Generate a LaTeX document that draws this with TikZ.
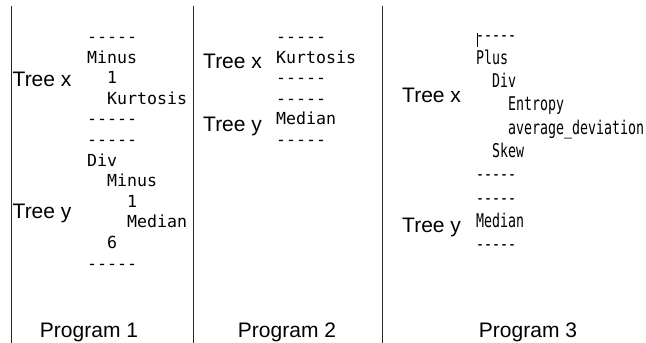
\documentclass[tikz,border=0pt]{standalone}
\usepackage{fontspec}
\usepackage{graphicx}
\setmainfont{Liberation Sans}
\newfontfamily\codefont{DejaVu Sans Mono}
\newcommand{\ind}[1]{\phantom{#1}}
\newcommand{\narrow}[1]{\scalebox{0.8}[1.14]{#1}}
\begin{document}
\begin{tikzpicture}[x=1pt,y=-1pt,
  lbl/.style={anchor=base west, inner sep=0pt, font=\fontsize{21}{24}\selectfont},
  prog/.style={anchor=base, inner sep=0pt, font=\fontsize{21}{24}\selectfont},
  code/.style={anchor=base west, inner sep=0pt, font=\codefont\fontsize{16.6}{20}\selectfont},
  sep/.style={line width=1pt, black!85}]
\useasboundingbox (0,0) rectangle (646,343);
\fill[white] (0,0) rectangle (646,343);

% column separators
\coordinate (s1t) at (11.5,6);  \coordinate (s1b) at (11.5,343);
\coordinate (s2t) at (193,6);   \coordinate (s2b) at (193,343);
\coordinate (s3t) at (382,6);   \coordinate (s3b) at (382,343);
\draw[sep] (s1t) -- (s1b);
\draw[sep] (s2t) -- (s2b);
\draw[sep] (s3t) -- (s3b);

% program labels
\node[prog] (prog1) at (89,337) {Program 1};
\node[prog] (prog2) at (287,337) {Program 2};
\node[prog] (prog3) at (528,337) {Program 3};

% tree labels
\node[lbl] (p1tx) at (12.5,86) {Tree x};
\node[lbl] (p1ty) at (12.5,218) {Tree y};
\node[lbl] (p2tx) at (203,68) {Tree x};
\node[lbl] (p2ty) at (203,131) {Tree y};
\node[lbl] (p3tx) at (402,102) {Tree x};
\node[lbl] (p3ty) at (402,232) {Tree y};

% program 1 code
\node[code] (a0)  at (87,42.5)  {-----};
\node[code] (a1)  at (87,63.1)  {Minus};
\node[code] (a2)  at (87,83.7)  {\ind{xx}1};
\node[code] (a3)  at (87,104.3) {\ind{xx}Kurtosis};
\node[code] (a4)  at (87,124.9) {-----};
\node[code] (a5)  at (87,145.5) {-----};
\node[code] (a6)  at (87,166.1) {Div};
\node[code] (a7)  at (87,186.7) {\ind{xx}Minus};
\node[code] (a8)  at (87,207.3) {\ind{xxxx}1};
\node[code] (a9)  at (87,227.9) {\ind{xxxx}Median};
\node[code] (a10) at (87,248.5) {\ind{xx}6};
\node[code] (a11) at (87,269.1) {-----};

% program 2 code
\node[code] (b0) at (276,42.5)  {-----};
\node[code] (b1) at (276,63.1)  {Kurtosis};
\node[code] (b2) at (276,83.7)  {-----};
\node[code] (b3) at (276,104.3) {-----};
\node[code] (b4) at (276,124.9) {Median};
\node[code] (b5) at (276,145.5) {-----};

% program 3 code
\coordinate (caretT) at (477,33);
\coordinate (caretB) at (477,47);
\draw[line width=0.7pt] (caretT) -- (caretB);
\node[code] (c0) at (476,41)    {\narrow{-----}};
\node[code] (c1) at (476,64.3)  {\narrow{Plus}};
\node[code] (c2) at (476,87.6)  {\narrow{\ind{xx}Div}};
\node[code] (c3) at (476,110.9) {\narrow{\ind{xxxx}Entropy}};
\node[code] (c4) at (476,134.2) {\narrow{\ind{xxxx}average\_deviation}};
\node[code] (c5) at (476,157.5) {\narrow{\ind{xx}Skew}};
\node[code] (c6) at (476,180.8) {\narrow{-----}};
\node[code] (c7) at (476,204.1) {\narrow{-----}};
\node[code] (c8) at (476,227.4) {\narrow{Median}};
\node[code] (c9) at (476,250.7) {\narrow{-----}};
\end{tikzpicture}
\end{document}
